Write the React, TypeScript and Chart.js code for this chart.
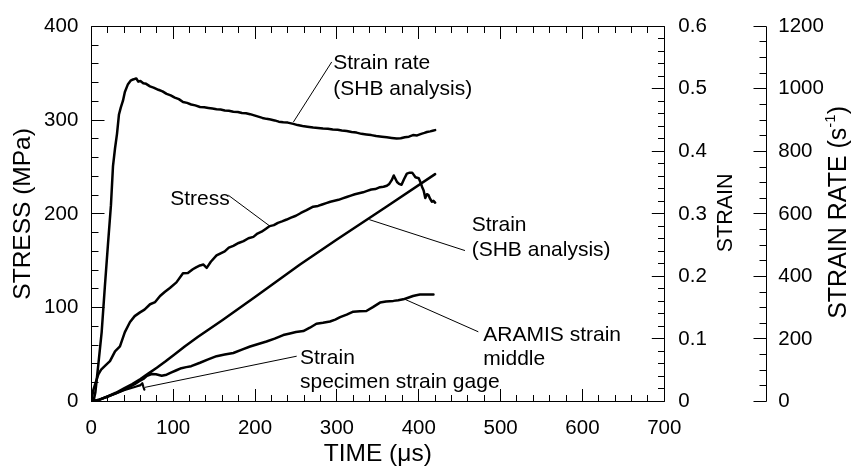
import React, { useEffect, useRef } from "react";
import { Chart, registerables } from "chart.js";

Chart.register(...registerables);

const FONT = '"Liberation Sans", Arial, Helvetica, sans-serif';

// ---- Strain rate (SHB analysis), s^-1 (outer right axis)
const rateTime = [0, 3, 5, 8.6, 12.7, 16.5, 20.4, 24, 26.5, 29, 31.4, 33.8, 36, 38.7, 41, 44.8, 48, 51, 53.4, 55, 57.4, 60, 63.5, 67, 71.7, 76, 82, 87, 92, 97, 102, 107, 112, 117, 122, 127, 132.8, 138, 143, 148, 153, 158, 163, 168, 173.5, 179, 184, 189, 194, 199, 204, 209, 214, 219, 224, 229, 234.5, 240, 246.8, 252, 258, 264, 271, 277, 283, 289, 295, 301, 306, 312, 318, 324, 330, 336, 342, 348, 355, 361, 367, 373, 378, 383, 388, 393, 398, 403, 407, 410, 414, 417, 420];
const rateValues = [0, 5, 30, 119, 223, 365, 504, 628, 753, 810, 856, 918, 940, 962, 990, 1015, 1026, 1030, 1032, 1033, 1023, 1025, 1018, 1016, 1008, 1004, 997, 992, 984, 979, 972, 967, 958, 955, 950, 947, 942, 941, 939, 937, 935, 934, 931, 930, 927, 926, 923, 922, 919, 915, 911, 907, 904, 902, 899, 895, 893, 892, 888, 884, 881, 879, 876, 875, 873, 872, 870, 869, 867, 865, 862, 860, 856, 854, 852, 849, 847, 845, 843, 841, 842, 845, 847, 852, 851, 856, 859, 862, 864, 866, 868];

// ---- Stress, MPa (left axis)
const stressTime = [0, 2.4, 6, 8.6, 12, 16.7, 22.8, 29, 35, 41, 47.3, 53, 59.5, 65, 71.8, 78, 84, 90, 96, 104, 112, 118, 124, 128, 132.8, 137, 141, 146, 153, 158, 163, 168, 173.5, 180, 186, 192, 198, 203, 208, 213, 218, 223, 228, 233, 238.7, 244, 250, 256, 263, 271, 277, 282, 287, 292, 297, 302, 307, 312, 317, 322, 327, 332, 337, 342, 347, 352.7, 357, 361, 364, 367, 369.5, 373.5, 376, 379, 382, 385.5, 389, 392, 396, 400, 402, 404, 406, 408, 410, 412, 414, 416, 418, 420];
const stressValues = [0, 12, 22, 29, 34, 38, 43, 53.5, 58.7, 74, 84.7, 91, 95, 98, 103.7, 106, 112.5, 117, 121, 127, 136.7, 137, 141, 143, 145, 146, 142.5, 149, 155.7, 158, 160, 164, 166, 169, 171, 174, 175.5, 179, 181, 184, 187, 188, 190.5, 192, 194, 196, 198, 201, 204, 207.7, 208.5, 210, 211.5, 213, 214, 215, 216.5, 218, 219.5, 221, 222, 223, 224.5, 226, 226.5, 228.5, 229, 230, 232, 236, 241, 234, 232, 231, 237, 243, 244, 244, 239, 238, 234, 229, 225, 217, 221, 220, 216, 213, 214, 212];

// ---- Strain (SHB analysis)
const strainTime = [0, 10, 20, 30, 40, 50, 60, 70, 80, 90, 100, 114.5, 130, 160, 200, 255, 300, 360, 420];
const strainValues = [0, 0.003, 0.008, 0.014, 0.021, 0.028, 0.036, 0.045, 0.054, 0.0635, 0.0735, 0.0885, 0.103, 0.13, 0.167, 0.219, 0.259, 0.311, 0.3636];

// ---- ARAMIS strain middle
const aramisTime = [0, 10, 20, 30, 40, 48, 53.4, 58, 63.5, 68, 73.8, 79, 86, 92, 98, 104, 110, 116, 122, 132.8, 142, 153, 163, 173.5, 184, 194, 204, 214, 224, 234.5, 242.6, 250, 259, 267, 275, 283, 291.6, 298, 304, 312, 320, 328, 336, 344, 352.7, 360, 369, 375, 381, 387, 393, 397, 401.5, 408, 418];
const aramisValues = [0, 0.003, 0.008, 0.013, 0.019, 0.024, 0.028, 0.032, 0.036, 0.041, 0.044, 0.0435, 0.0413, 0.0429, 0.0465, 0.05, 0.0533, 0.055, 0.0565, 0.062, 0.067, 0.0725, 0.075, 0.0776, 0.083, 0.088, 0.092, 0.0959, 0.1005, 0.1063, 0.1088, 0.111, 0.1126, 0.118, 0.1244, 0.126, 0.128, 0.131, 0.1349, 0.139, 0.1437, 0.1445, 0.1447, 0.151, 0.1582, 0.16, 0.1609, 0.162, 0.1634, 0.166, 0.1687, 0.17, 0.1712, 0.1712, 0.1712];

// ---- Strain, specimen strain gage
const gageTime = [0, 10, 20, 30, 40, 50, 56, 59.5, 62.3, 63.5, 64.8];
const gageValues = [0, 0.003, 0.008, 0.013, 0.018, 0.022, 0.0245, 0.0257, 0.0293, 0.024, 0.019];

// ---- axis tick values
const timeTicks = [0, 100, 200, 300, 400, 500, 600, 700];
const stressTicks = [0, 100, 200, 300, 400];
const strainTicks = [0, 0.1, 0.2, 0.3, 0.4, 0.5, 0.6];
const rateTicks = [0, 200, 400, 600, 800, 1000, 1200];

// ---- annotation texts
const noteLines = [
  ["Strain rate", "(SHB analysis)"],
  ["Stress"],
  ["Strain", "(SHB analysis)"],
  ["ARAMIS strain", "middle"],
  ["Strain", "specimen strain gage"],
];

const pts = (xs: number[], ys: number[]) => xs.map((x, i) => ({ x, y: ys[i] }));

// annotation placement in (time, stress) coordinates
const NOTE_POS = [
  { t: 295.6, s: 360.7, gap: 26.5, from: [246.8, 297.8], to: [293.7, 362] },
  { t: 96.4, s: 216.2, gap: 25, from: [167.4, 219.9], to: [218.3, 186.9] },
  { t: 464.7, s: 187.6, gap: 25, from: [339.6, 193.9], to: [456.5, 160.9] },
  { t: 478.9, s: 70.7, gap: 24.5, from: [383.2, 108.9], to: [472.8, 74.3] },
  { t: 254.9, s: 46.5, gap: 24.5, from: [65.6, 15.1], to: [250.9, 48.3] },
];

const snap = (v: number) => Math.floor(v) + 0.5;

const decor = {
  id: "decor",
  afterDraw(chart: any) {
    const { ctx, chartArea: a, scales } = chart;
    const xs = scales.x, ys = scales.y, y1 = scales.y1, y2 = scales.y2;
    const L = snap(a.left), R = snap(a.right), T = snap(a.top), B = snap(a.bottom);
    ctx.save();
    ctx.strokeStyle = "#000";
    ctx.lineWidth = 1;
    ctx.beginPath();
    ctx.moveTo(L, T); ctx.lineTo(R, T); ctx.lineTo(R, B); ctx.lineTo(L, B); ctx.closePath();
    for (let v = 0; v <= 700; v += 20) {
      const px = snap(xs.getPixelForValue(v));
      const len = v % 100 === 0 ? 12.5 : 6.5;
      ctx.moveTo(px, B); ctx.lineTo(px, B - len);
      ctx.moveTo(px, T); ctx.lineTo(px, T + len);
    }
    for (let v = 0; v <= 400; v += 20) {
      const py = snap(ys.getPixelForValue(v));
      const len = v % 100 === 0 ? 13 : 7;
      ctx.moveTo(L, py); ctx.lineTo(L + len, py);
    }
    for (let i = 0; i <= 30; i++) {
      const py = snap(y1.getPixelForValue(i * 0.02));
      const len = i % 5 === 0 ? 12.7 : 6.5;
      ctx.moveTo(R, py); ctx.lineTo(R - len, py);
    }
    const ax = snap(y2.left);
    ctx.moveTo(ax, T); ctx.lineTo(ax, B);
    for (let v = 0; v <= 1200; v += 50) {
      const py = snap(y2.getPixelForValue(v));
      const len = v % 200 === 0 ? 13 : 7;
      ctx.moveTo(ax, py); ctx.lineTo(ax - len, py);
    }
    ctx.stroke();

    // leader lines
    ctx.beginPath();
    NOTE_POS.forEach((n) => {
      ctx.moveTo(xs.getPixelForValue(n.from[0]), ys.getPixelForValue(n.from[1]));
      ctx.lineTo(xs.getPixelForValue(n.to[0]), ys.getPixelForValue(n.to[1]));
    });
    ctx.stroke();

    // annotation texts
    ctx.fillStyle = "#000";
    ctx.font = `21px ${FONT}`;
    ctx.textAlign = "left";
    ctx.textBaseline = "middle";
    NOTE_POS.forEach((n, i) => {
      const x0 = xs.getPixelForValue(n.t);
      const yy = ys.getPixelForValue(n.s);
      noteLines[i].forEach((line, j) => ctx.fillText(line, x0, yy + j * n.gap));
    });

    // right axis titles (reading bottom to top)
    const midY = (a.top + a.bottom) / 2;
    ctx.save();
    ctx.translate(y1.left + 61.7, midY - 1);
    ctx.rotate(-Math.PI / 2);
    ctx.font = `21.5px ${FONT}`;
    ctx.textAlign = "center";
    ctx.fillText("STRAIN", 0, 0);
    ctx.restore();

    ctx.save();
    ctx.translate(y2.left + 72, midY - 1.5);
    ctx.rotate(-Math.PI / 2);
    ctx.textAlign = "left";
    const main = "STRAIN RATE (s", sup = "-1", end = ")";
    ctx.font = `25px ${FONT}`;
    const w1 = ctx.measureText(main).width;
    const w3 = ctx.measureText(end).width;
    ctx.font = `15px ${FONT}`;
    const w2 = ctx.measureText(sup).width;
    const x0 = -(w1 + w2 + w3) / 2;
    ctx.font = `25px ${FONT}`;
    ctx.fillText(main, x0, 0);
    ctx.font = `15px ${FONT}`;
    ctx.fillText(sup, x0 + w1, -8);
    ctx.font = `25px ${FONT}`;
    ctx.fillText(end, x0 + w1 + w2, 0);
    ctx.restore();

    ctx.restore();
  },
};

const tickFont = { family: FONT, size: 20.5 };
const plain = (v: any) => String(Math.round(Number(v) * 10) / 10);

export default function App() {
  const ref = useRef<HTMLCanvasElement | null>(null);
  useEffect(() => {
    document.body.style.margin = "0";
    if (!ref.current) return;
    const line = (data: any[], axis: string, w = 2.5) => ({
      data,
      yAxisID: axis,
      borderColor: "#000",
      backgroundColor: "#000",
      borderWidth: w,
      pointRadius: 0,
      tension: 0,
      fill: false,
      borderJoinStyle: "round",
      borderCapStyle: "round",
    });
    const chart = new Chart(ref.current, {
      type: "line",
      data: {
        datasets: [
          line(pts(rateTime, rateValues), "y2"),
          line(pts(stressTime, stressValues), "y"),
          line(pts(strainTime, strainValues), "y1"),
          line(pts(aramisTime, aramisValues), "y1"),
          line(pts(gageTime, gageValues), "y1", 2.2),
        ] as any,
      },
      options: {
        responsive: false,
        animation: false,
        devicePixelRatio: 1,
        layout: { padding: { top: 16.7, left: 0, right: 0, bottom: 0 } },
        plugins: { legend: { display: false }, tooltip: { enabled: false } },
        scales: {
          x: {
            type: "linear",
            position: "bottom",
            min: 0,
            max: 700,
            grid: { display: false, drawTicks: false },
            border: { display: false },
            afterBuildTicks: (s: any) => { s.ticks = timeTicks.map((v) => ({ value: v })); },
            ticks: { color: "#000", font: tickFont, padding: 14.5, maxRotation: 0, autoSkip: false, callback: plain },
            title: { display: true, text: "TIME (μs)", color: "#000", font: { family: FONT, size: 24.5, lineHeight: 1 }, padding: { top: 0, bottom: 2.5 } },
            afterFit: (s: any) => { s.height = 67.5; },
          },
          y: {
            type: "linear",
            position: "left",
            min: 0,
            max: 400,
            grid: { display: false, drawTicks: false },
            border: { display: false },
            afterBuildTicks: (s: any) => { s.ticks = stressTicks.map((v) => ({ value: v })); },
            ticks: { color: "#000", font: tickFont, padding: 13, callback: plain },
            title: { display: true, text: "STRESS (MPa)", color: "#000", font: { family: FONT, size: 24.5, lineHeight: 1 }, padding: { top: 10.6, bottom: 0 } },
            afterFit: (s: any) => { s.width = 91.3; },
          },
          y1: {
            type: "linear",
            position: "right",
            min: 0,
            max: 0.6,
            grid: { display: false, drawTicks: false },
            border: { display: false },
            afterBuildTicks: (s: any) => { s.ticks = strainTicks.map((v) => ({ value: v })); },
            ticks: { color: "#000", font: tickFont, padding: 14, callback: plain },
            afterFit: (s: any) => { s.width = 102.4; },
          },
          y2: {
            type: "linear",
            position: "right",
            min: 0,
            max: 1200,
            grid: { display: false, drawTicks: false },
            border: { display: false },
            afterBuildTicks: (s: any) => { s.ticks = rateTicks.map((v) => ({ value: v })); },
            ticks: { color: "#000", font: tickFont, padding: 11.6, callback: plain },
            afterFit: (s: any) => { s.width = 84.3; },
          },
        },
      } as any,
      plugins: [decor],
    });
    return () => chart.destroy();
  }, []);
  return (
    <div style={{ position: "absolute", left: 0, top: 0, width: 851, height: 469, background: "#fff" }}>
      <canvas ref={ref} width={851} height={469} style={{ display: "block" }} />
    </div>
  );
}
